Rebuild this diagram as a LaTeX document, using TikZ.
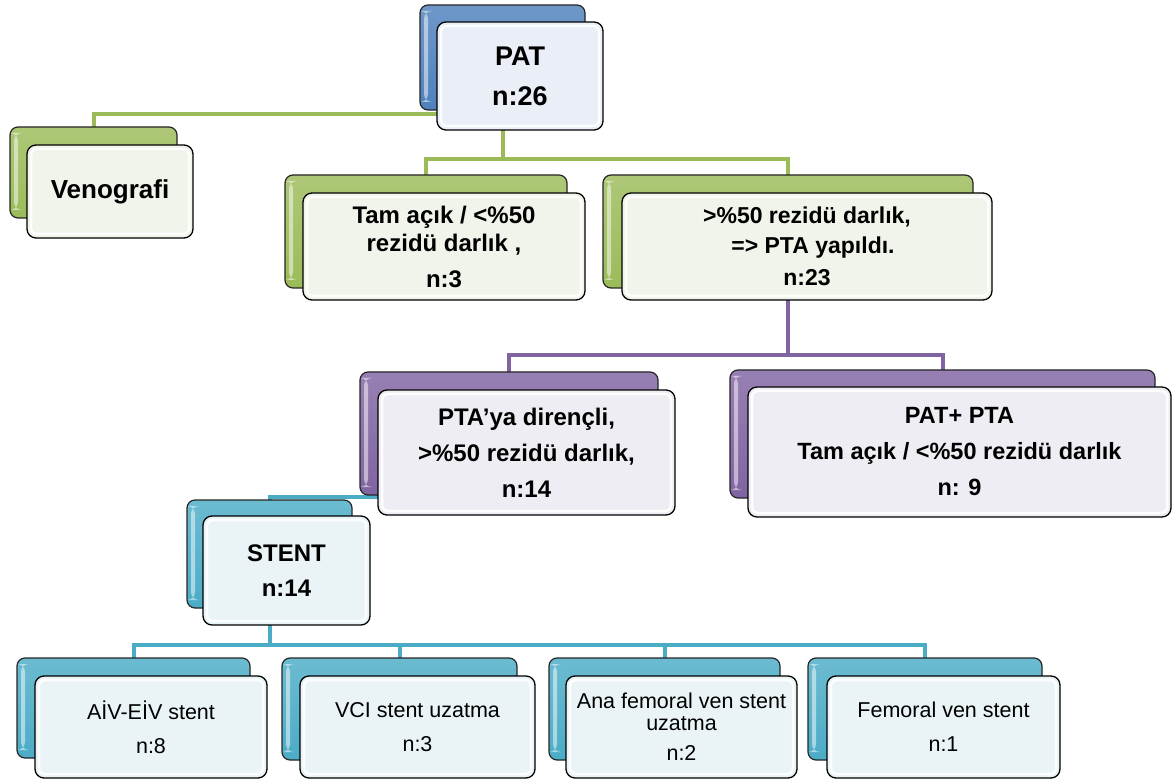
\documentclass[tikz,border=0pt]{standalone}
\usepackage{fontspec}
\setmainfont{Liberation Sans}
\pgfdeclarelayer{bg}
\pgfsetlayers{bg,main}
\definecolor{grn}{HTML}{9BBB59}
\definecolor{blu}{HTML}{4F81BD}
\definecolor{pur}{HTML}{8064A2}
\definecolor{aqu}{HTML}{4BACC6}
\definecolor{grnF}{HTML}{F0F4EA}
\definecolor{bluF}{HTML}{E9EEF7}
\definecolor{purF}{HTML}{EFEDF4}
\definecolor{aquF}{HTML}{EAF4F7}
\newcommand\fsb[2]{\fontsize{#1}{#2}\selectfont\bfseries}
\newcommand\fsr[2]{\fontsize{#1}{#2}\selectfont}
\newcommand\mkbox[7]{\node[#2, minimum width={#5-#3}, minimum height={#6-#4}] (#1) at ({(#3+#5)/2},{(#4+#6)/2}) {#7};}
\begin{document}
\begin{tikzpicture}[x=1pt,y=-1pt,
  bk/.style={rounded corners=8pt, draw=black!85, line width=1.2pt,
    top color=#1!82!white, bottom color=#1, inner sep=0pt,
    path picture={\fill[white,opacity=0.5] ([shift={(4pt,-6pt)}]path picture bounding box.north west) rectangle ([shift={(8pt,8pt)}]path picture bounding box.south west);}},
  fr/.style={rounded corners=9pt, draw=black, line width=1.3pt, fill=#1,
    inner sep=2pt, align=center, text=black,
    path picture={\draw[white,line width=2.5pt,opacity=0.9,rounded corners=6pt] ([shift={(4pt,-4pt)}]path picture bounding box.north west) rectangle ([shift={(-4pt,4pt)}]path picture bounding box.south east);}},
  gl/.style={draw=grn, line width=4pt},
  pl/.style={draw=pur, line width=4pt},
  al/.style={draw=aqu, line width=4pt}]
\useasboundingbox (0,0) rectangle (1173,783);

\mkbox{patB}{bk=blu}{420}{5}{585}{110}{}
\mkbox{patF}{fr=bluF, font=\fsb{27}{40}}{437}{22}{603}{130}{PAT\\n:26}
\mkbox{venB}{bk=grn}{10}{127}{177}{218}{}
\mkbox{venF}{fr=grnF, font=\fsb{26}{30}}{27}{145}{193}{238}{Venografi}
\mkbox{tamB}{bk=grn}{285}{175}{567}{288}{}
\mkbox{tamF}{fr=grnF, font=\fsb{24}{28}}{303}{193}{585}{300}{Tam açık / <\%50\\rezidü darlık ,\\[8pt]n:3}
\mkbox{remB}{bk=grn}{603}{175}{973}{288}{}
\mkbox{remF}{fr=grnF, font=\fsb{23}{30}}{622}{193}{992}{300}{>\%50 rezidü darlık,\\\hspace*{12pt}=> PTA yapıldı.\\[2pt]n:23}
\mkbox{resB}{bk=pur}{360}{372}{658}{495}{}
\mkbox{resF}{fr=purF, font=\fsb{24}{36}}{378}{390}{675}{515}{PTA’ya dirençli,\\>\%50 rezidü darlık,\\n:14}
\mkbox{okB}{bk=pur}{730}{370}{1155}{498}{}
\mkbox{okF}{fr=purF, font=\fsb{23.5}{36}}{748}{387}{1171}{517}{PAT+ PTA\\Tam açık / <\%50 rezidü darlık\\n: 9}
\mkbox{stB}{bk=aqu}{187}{500}{352}{608}{}
\mkbox{stF}{fr=aquF, font=\fsb{24}{35}}{203}{516}{370}{625}{STENT\\n:14}
\mkbox{aB}{bk=aqu}{17}{658}{250}{758}{}
\mkbox{aF}{fr=aquF, font=\fsr{21.5}{34}}{35}{676}{267}{778}{AİV-EİV stent\\n:8}
\mkbox{vB}{bk=aqu}{282}{658}{517}{760}{}
\mkbox{vF}{fr=aquF, font=\fsr{21.5}{34}}{300}{676}{535}{778}{VCI stent uzatma\\n:3}
\mkbox{fB}{bk=aqu}{549}{658}{780}{760}{}
\mkbox{fF}{fr=aquF, font=\fsr{21.5}{22}}{566}{676}{797}{778}{Ana femoral ven stent\\uzatma\\[8pt]n:2}
\mkbox{eB}{bk=aqu}{808}{658}{1042}{760}{}
\mkbox{eF}{fr=aquF, font=\fsr{21.5}{34}}{827}{676}{1060}{778}{Femoral ven stent\\n:1}

\coordinate (g1) at (0,114);
\coordinate (g2) at (0,159);
\coordinate (p1) at (0,355);
\coordinate (a1) at (0,497);
\coordinate (a2) at (0,645);
\coordinate (bgA) at (0,0);
\coordinate (bgB) at (1173,783);

\begin{pgfonlayer}{bg}
\fill[white] (bgA) rectangle (bgB);
\draw[gl] (patB.center) -- (patB.center |- g1) -| (venB.center);
\draw[gl] (patB.center) -- (patB.center |- g2) -| (tamB.center);
\draw[gl] (patB.center |- g2) -| (remB.center);
\draw[pl] (remB.center) -- (remB.center |- p1) -| (resB.center);
\draw[pl] (remB.center |- p1) -| (okB.center);
\draw[al] (resB.center) -- (resB.center |- a1) -| (stB.center);
\draw[al] (stB.center) -- (stB.center |- a2) -| (aB.center);
\draw[al] (stB.center |- a2) -| (vB.center);
\draw[al] (stB.center |- a2) -| (fB.center);
\draw[al] (stB.center |- a2) -| (eB.center);
\end{pgfonlayer}
\end{tikzpicture}
\end{document}
